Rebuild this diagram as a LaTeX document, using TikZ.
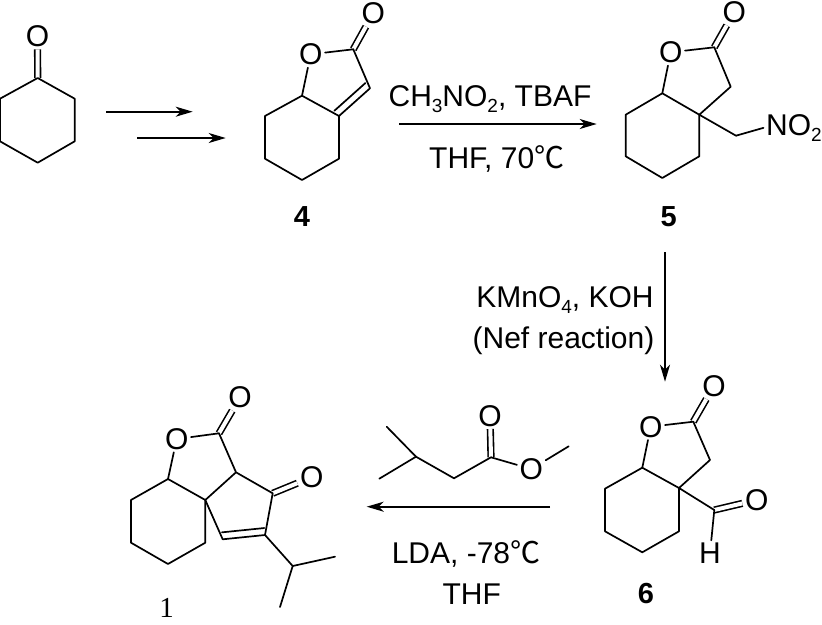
\documentclass[tikz,border=0pt]{standalone}
\usepackage{fontspec}
\usepackage{tikz}
\usetikzlibrary{arrows.meta,calc}
\setmainfont{Liberation Sans}
\newfontfamily\serifnum{Liberation Serif}
\newfontfamily\cjkfont{Noto Sans CJK SC}
\newcommand{\chemsub}[1]{\raisebox{-0.22em}{\fontsize{19}{19}\selectfont #1}}
\newcommand{\degc}{{\cjkfont ℃}}
\tikzset{
    bond/.style={line width=1.7pt,line join=round,line cap=round},
    dbond/.style={line width=1.6pt,double,double distance=4pt},
    inner/.style={line width=1.7pt,line cap=round},
    rxn/.style={line width=1.7pt,-{Stealth[length=17pt,width=10pt,inset=5pt]}},
    atom/.style={font=\fontsize{30}{32}\selectfont,inner sep=2.5pt},
    reagent/.style={font=\fontsize{30}{32}\selectfont,inner sep=0pt,anchor=base},
    cmpd/.style={font=\fontsize{29}{32}\selectfont\bfseries,inner sep=0pt}
}
\begin{document}
\begin{tikzpicture}[x=1pt,y=-1pt]
    \useasboundingbox (0,0) rectangle (822,624);
    % cyclohexanone
    \coordinate (a1) at (37.7,78);
    \coordinate (a2) at (74.7,98.7);
    \coordinate (a3) at (74.7,141.3);
    \coordinate (a4) at (37.7,162.7);
    \coordinate (a5) at (0,141.3);
    \coordinate (a6) at (0,98.7);
    \node [atom] (ao) at (37.5,36) {O};
    \draw [dbond] (a1) to (ao);
    \draw [bond] (a1) -- (a2) -- (a3) -- (a4) -- (a5) -- (a6) -- cycle;
    \coordinate (s1a) at (106,111.7);
    \coordinate (s1b) at (192.7,111.7);
    \coordinate (s2a) at (137,138);
    \coordinate (s2b) at (225.7,138);
    \draw [rxn] (s1a) to (s1b);
    \draw [rxn] (s2a) to (s2b);
    % compound 4
    \coordinate (b1) at (302,95.7);
    \coordinate (b2) at (265,116);
    \coordinate (b3) at (265,158.7);
    \coordinate (b4) at (302,180);
    \coordinate (b5) at (339,158.7);
    \coordinate (b6) at (339,116);
    \coordinate (b7) at (353.3,49.3);
    \coordinate (b8) at (370,88.3);
    \node [atom] (bo) at (310.7,54.3) {O};
    \node [atom] (bco) at (373.3,13.3) {O};
    \draw [dbond] (b7) to (bco);
    \draw [bond] (b1) -- (b2) -- (b3) -- (b4) -- (b5) -- (b6) -- cycle;
    \draw [bond] (b1) to (bo);
    \draw [bond] (bo) to (b7);
    \draw [bond] (b7) -- (b8) -- (b6);
    \draw [inner] ($(b6)!7pt!90:(b8)$) to ($(b8)!7pt!-90:(b6)$);
    \node [cmpd] (lab4) at (302,217) {4};
    % nitromethane step
    \node [reagent] (r1) at (490,106) {CH\chemsub{3}NO\chemsub{2}, TBAF};
    \coordinate (s3a) at (399.3,124);
    \coordinate (s3b) at (596.7,124);
    \draw [rxn] (s3a) to (s3b);
    \node [reagent] (r2) at (496.7,168) {THF, 70\degc};
    % compound 5
    \coordinate (c1) at (662.3,93.3);
    \coordinate (c2) at (625.7,114.7);
    \coordinate (c3) at (625.7,156.3);
    \coordinate (c4) at (662.3,178);
    \coordinate (c5) at (699.3,156.3);
    \coordinate (c6) at (699.3,114.7);
    \coordinate (c7) at (714.3,47.3);
    \coordinate (c8) at (730.7,86.7);
    \coordinate (c9) at (736,135.7);
    \node [atom] (co) at (670.7,52.3) {O};
    \node [atom] (cco) at (734.3,12) {O};
    \node [atom,anchor=base west] (cno) at (763.5,135) {NO\chemsub{2}};
    \draw [dbond] (c7) to (cco);
    \draw [bond] (c1) -- (c2) -- (c3) -- (c4) -- (c5) -- (c6) -- cycle;
    \draw [bond] (c1) to (co);
    \draw [bond] (co) to (c7);
    \draw [bond] (c7) -- (c8) -- (c6) -- (c9);
    \draw [bond] (c9) to (cno.west);
    \node [cmpd] (lab5) at (668.7,216.7) {5};
    % nef step
    \coordinate (s4a) at (665,252);
    \coordinate (s4b) at (665,381.7);
    \draw [rxn] (s4a) to (s4b);
    \node [reagent] (r3) at (565,307) {KMnO\chemsub{4}, KOH};
    \node [reagent] (r4) at (563.5,348) {(Nef reaction)};
    % compound 6
    \coordinate (d1) at (642.3,467.7);
    \coordinate (d2) at (605,488.7);
    \coordinate (d3) at (605,531.3);
    \coordinate (d4) at (642.3,552.3);
    \coordinate (d5) at (679,531.3);
    \coordinate (d6) at (679,488);
    \coordinate (d7) at (693.3,421.7);
    \coordinate (d8) at (710,460);
    \coordinate (d9) at (714.3,510);
    \node [atom] (do) at (650.7,426.7) {O};
    \node [atom] (dco) at (714,385.7) {O};
    \node [atom] (dho) at (756.7,500) {O};
    \node [atom] (dh) at (710,553.3) {H};
    \draw [dbond] (d7) to (dco);
    \draw [dbond] (d9) to (dho);
    \draw [bond] (d1) -- (d2) -- (d3) -- (d4) -- (d5) -- (d6) -- cycle;
    \draw [bond] (d1) to (do);
    \draw [bond] (do) to (d7);
    \draw [bond] (d7) -- (d8) -- (d6) -- (d9);
    \draw [bond] (d9) to (dh);
    \node [cmpd] (lab6) at (646,593.3) {6};
    % ester and LDA step
    \coordinate (e1) at (386.7,426.7);
    \coordinate (e2) at (416,456.7);
    \coordinate (e3) at (379.3,478.7);
    \coordinate (e4) at (454,478.3);
    \coordinate (e5) at (491,457.3);
    \coordinate (e6) at (568.7,446.3);
    \node [atom] (eco) at (490,415.7) {O};
    \node [atom] (eo) at (531.3,469) {O};
    \draw [dbond] (e5) to (eco);
    \draw [bond] (e1) -- (e2) -- (e4) -- (e5);
    \draw [bond] (e3) to (e2);
    \draw [bond] (e5) to (eo);
    \draw [bond] (eo) to (e6);
    \coordinate (s5a) at (550,506.7);
    \coordinate (s5b) at (366.7,506.7);
    \draw [rxn] (s5a) to (s5b);
    \node [reagent] (r5) at (466,563) {LDA, -78\degc};
    \node [reagent] (r6) at (471.7,604) {THF};
    % compound 1
    \coordinate (f1) at (168,479);
    \coordinate (f2) at (131,500);
    \coordinate (f3) at (131,542.7);
    \coordinate (f4) at (168,564);
    \coordinate (f5) at (205.3,542.7);
    \coordinate (f6) at (205.3,500);
    \coordinate (f7) at (219,433.3);
    \coordinate (f8) at (236,472.3);
    \coordinate (f9) at (272.7,493.3);
    \coordinate (f10) at (265,535);
    \coordinate (f11) at (222.7,539.3);
    \coordinate (f12) at (292.7,566);
    \coordinate (f13) at (335,556.7);
    \coordinate (f14) at (280,607);
    \node [atom] (fo) at (176.7,439) {O};
    \node [atom] (fco) at (240,397.3) {O};
    \node [atom] (fko) at (311.7,477.3) {O};
    \draw [dbond] (f7) to (fco);
    \draw [dbond] (f9) to (fko);
    \draw [bond] (f1) -- (f2) -- (f3) -- (f4) -- (f5) -- (f6) -- cycle;
    \draw [bond] (f1) to (fo);
    \draw [bond] (fo) to (f7);
    \draw [bond] (f7) -- (f8) -- (f9) -- (f10) -- (f11) -- (f6) -- (f8);
    \draw [inner] ($(f11)!7pt!90:(f10)$) to ($(f10)!7pt!-90:(f11)$);
    \draw [bond] (f10) -- (f12) -- (f13);
    \draw [bond] (f12) to (f14);
    \node [font=\fontsize{29}{32}\selectfont\serifnum,inner sep=0pt] (lab1) at (166.7,607.5) {1};
\end{tikzpicture}
\end{document}
